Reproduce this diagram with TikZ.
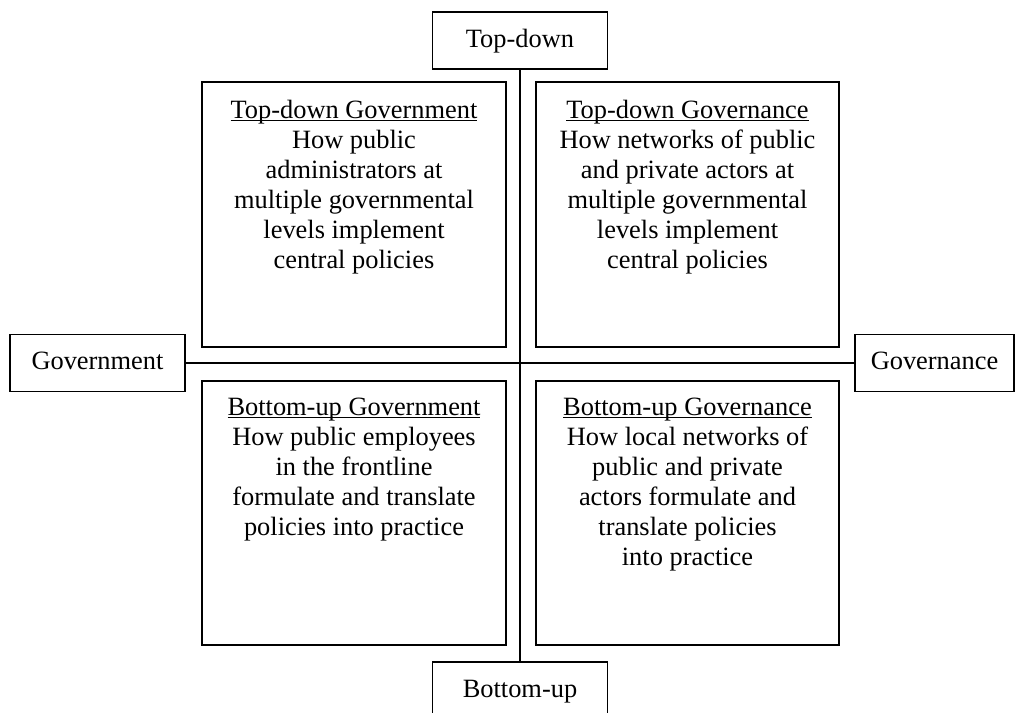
\documentclass[tikz,border=0pt]{standalone}
\usepackage{fontspec}
\setmainfont{Liberation Serif}
\newcommand\ulx[1]{\setbox0\hbox{#1}\rlap{\rule[-2.6pt]{\wd0}{1.1pt}}\box0}
\begin{document}
\begin{tikzpicture}[x=1pt,y=-1pt,
  every node/.style={font=\fontsize{26.4}{30}\selectfont},
  axisbox/.style={draw,line width=1.7pt,inner sep=0pt,minimum height=57pt,text height=17pt,text depth=4pt},
  quad/.style={draw,line width=1.7pt,inner sep=0pt},
  quadtext/.style={align=center,anchor=base,inner sep=0pt},
  axis/.style={line width=2pt}]
\useasboundingbox[fill=white] (0,0) rectangle (1016,712);
% axis boxes
\node[axisbox,minimum width=175pt] (top) at (520,40.5) {Top-down};
\node[axisbox,minimum width=175pt] (bot) at (520,690.5) {Bottom-up};
\node[axisbox,minimum width=175pt] (gov) at (97.5,363) {Government};
\node[axisbox,minimum width=159pt] (gvn) at (934.5,363) {Governance};
% axes
\draw[axis] (top.south) -- (bot.north);
\draw[axis] (gov.east) -- (gvn.west);
% quadrant boxes
\node[quad,minimum width=304pt,minimum height=265pt] (tl) at (354,214.5) {};
\node[quad,minimum width=303pt,minimum height=265pt] (tr) at (687.5,214.5) {};
\node[quad,minimum width=304pt,minimum height=264pt] (bl) at (354,513) {};
\node[quad,minimum width=303pt,minimum height=264pt] (br) at (687.5,513) {};
% quadrant texts (base anchor = baseline of the last line)
\node[quadtext] (tlt) at (354,268) {\ulx{Top-down Government}\\How public\\administrators at\\multiple governmental\\levels implement\\central policies};
\node[quadtext] (trt) at (687.5,268) {\ulx{Top-down Governance}\\How networks of public\\and private actors at\\multiple governmental\\levels implement\\central policies};
\node[quadtext] (blt) at (354,535) {\ulx{Bottom-up Government}\\How public employees\\in the frontline\\formulate and translate\\policies into practice};
\node[quadtext] (brt) at (687.5,565) {\ulx{Bottom-up Governance}\\How local networks of\\public and private\\actors formulate and\\translate policies\\into practice};
\end{tikzpicture}
\end{document}
